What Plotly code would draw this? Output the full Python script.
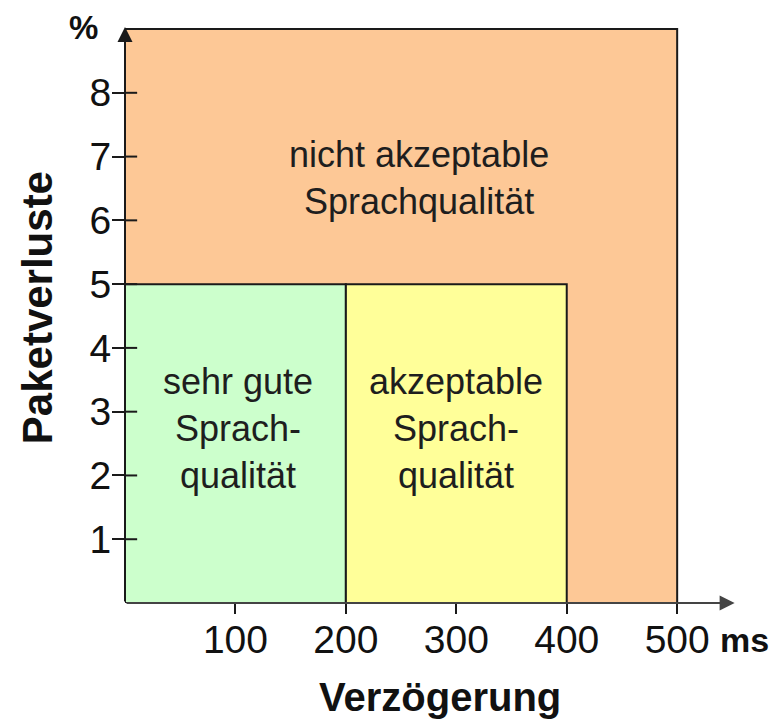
import plotly.graph_objects as go

# Region thresholds (data values)
delay_ticks = [100, 200, 300, 400, 500]
loss_ticks = [1, 2, 3, 4, 5, 6, 7, 8]

region_names = ["nicht akzeptable<br>Sprachqualität", "sehr gute<br>Sprach-<br>qualität", "akzeptable<br>Sprach-<br>qualität"]
region_x0 = [0, 0, 200]
region_x1 = [500, 200, 400]
region_y0 = [0, 0, 0]
region_y1 = [9, 5, 5]
region_colors = ["#FDC896", "#CCFFCC", "#FFFF99"]

label_x = [266, 102, 300]
label_y = [6.66, 2.74, 2.74]

FONT = "Liberation Sans, Arial, sans-serif"

fig = go.Figure()
fig.add_trace(go.Scatter(x=[0], y=[0], mode="markers", marker=dict(opacity=0), hoverinfo="skip", showlegend=False))

for x0, x1, y0, y1, c in zip(region_x0, region_x1, region_y0, region_y1, region_colors):
    fig.add_shape(type="rect", xref="x", yref="y", x0=x0, x1=x1, y0=y0, y1=y1,
                  fillcolor=c, line=dict(color="#1a1a1a", width=2), layer="below")

# inner part of y ticks (crossing ticks)
for t in loss_ticks:
    fig.add_shape(type="line", xref="x", yref="y", x0=0, x1=11, y0=t, y1=t,
                  line=dict(color="#1a1a1a", width=2))

for name, lx, ly in zip(region_names, label_x, label_y):
    fig.add_annotation(x=lx, y=ly, xref="x", yref="y", text=name, showarrow=False,
                       font=dict(family=FONT, size=36, color="#1e1e1e"), align="center")

# axis arrows
fig.add_annotation(x=552, y=0, ax=0, ay=0, xref="x", yref="y", axref="x", ayref="y",
                   showarrow=True, arrowhead=2, arrowsize=1.5, arrowwidth=2, arrowcolor="#444444", text="")
fig.add_annotation(x=0, y=9.03, ax=0, ay=0, xref="x", yref="y", axref="x", ayref="y",
                   showarrow=True, arrowhead=2, arrowsize=1.5, arrowwidth=2, arrowcolor="#1a1a1a", text="")

fig.add_annotation(x=-0.138, y=0.502, xref="paper", yref="paper", text="<b>Paketverluste</b>",
                   xanchor="center", yanchor="middle",
                   textangle=-90, showarrow=False, font=dict(family=FONT, size=42, color="#111111"))
fig.add_annotation(x=0.496, y=-0.16, xref="paper", yref="paper", text="<b>Verzögerung</b>",
                   xanchor="center", yanchor="middle",
                   showarrow=False, font=dict(family=FONT, size=40, color="#111111"))
fig.add_annotation(x=-0.065, y=0.978, xref="paper", yref="paper", text="<b>%</b>",
                   xanchor="center", yanchor="middle",
                   showarrow=False, font=dict(family=FONT, size=33, color="#111111"))
fig.add_annotation(x=0.976, y=-0.063, xref="paper", yref="paper", text="<b>ms</b>",
                   xanchor="center", yanchor="middle",
                   showarrow=False, font=dict(family=FONT, size=34, color="#111111"))

fig.update_layout(
    width=782, height=725,
    margin=dict(l=117, r=30, t=7, b=130),
    paper_bgcolor="white", plot_bgcolor="white",
    showlegend=False,
    xaxis=dict(range=[0, 575], tickvals=delay_ticks, ticks="outside", ticklen=10, tickwidth=2,
               tickcolor="#1a1a1a", showgrid=False, zeroline=False, showline=False,
               ticklabelstandoff=-8,
               tickfont=dict(family=FONT, size=39, color="#111111")),
    yaxis=dict(range=[0, 9.22], tickvals=loss_ticks, ticks="outside", ticklen=12, tickwidth=2,
               tickcolor="#1a1a1a", showgrid=False, zeroline=False, showline=False,
               ticklabelstandoff=-7,
               tickfont=dict(family=FONT, size=39, color="#111111")),
)

fig.write_html("out.html")
